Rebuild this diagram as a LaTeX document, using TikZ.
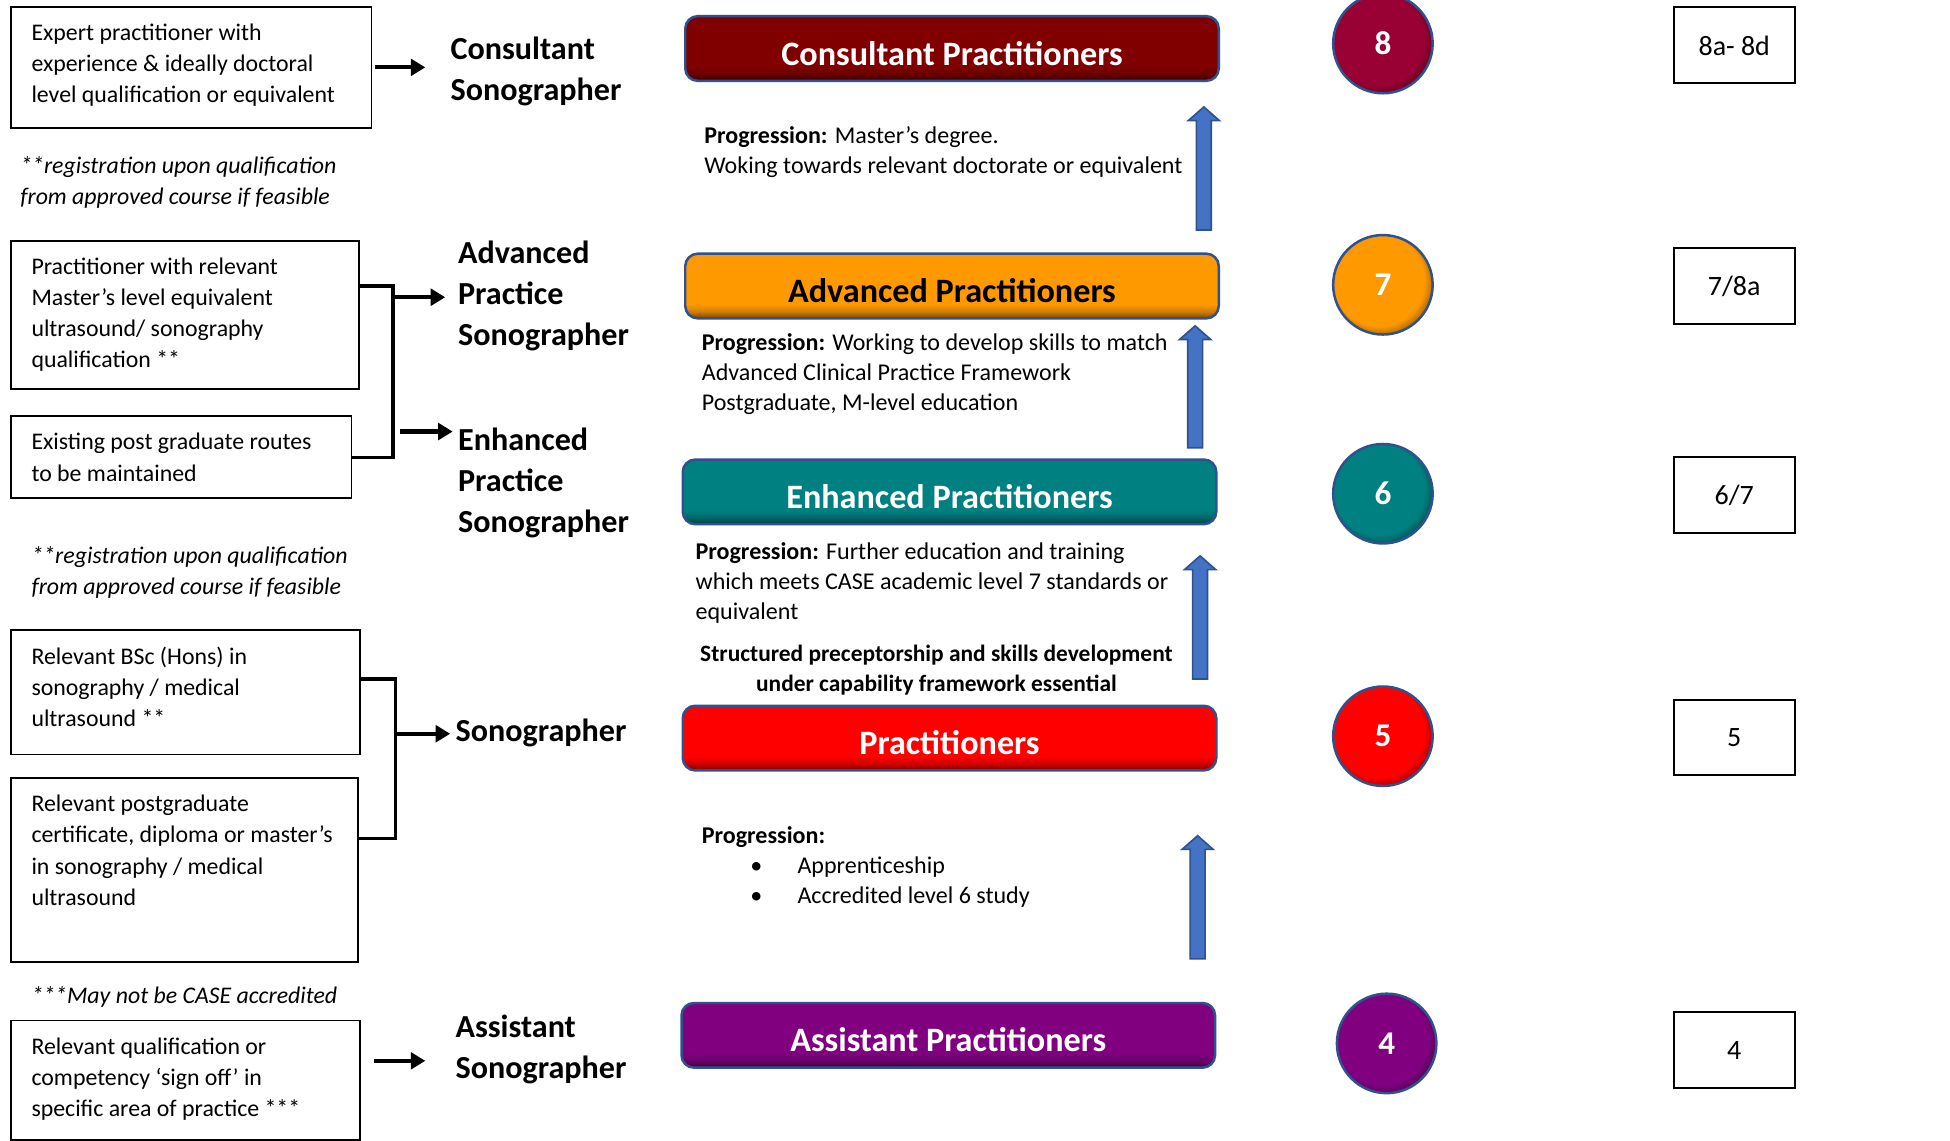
\documentclass[tikz,border=0pt]{standalone}
\usepackage{fontspec}
\setmainfont{Carlito}
\usetikzlibrary{arrows.meta,calc,positioning}

\definecolor{consred}{HTML}{800000}
\definecolor{advorange}{HTML}{FF9900}
\definecolor{enhteal}{HTML}{008080}
\definecolor{prred}{HTML}{FF0000}
\definecolor{astpurple}{HTML}{800080}
\definecolor{bandeight}{HTML}{990033}
\definecolor{arrowblue}{HTML}{4472C4}
\definecolor{edgeblue}{HTML}{2F528F}
\colorlet{barcol}{red}
\colorlet{dotcol}{red}

\pgfdeclareverticalshading[barcol]{barshade}{100bp}{color(0bp)=(barcol!45!black); color(25bp)=(barcol!45!black); color(30bp)=(barcol!80!black); color(36bp)=(barcol); color(100bp)=(barcol)}
\pgfdeclareradialshading[dotcol]{dotshade}{\pgfpoint{-4bp}{4bp}}{color(0bp)=(dotcol); color(23bp)=(dotcol); color(30bp)=(dotcol!50!black); color(50bp)=(dotcol!50!black)}

\tikzset{
  qualbox/.style={draw, line width=0.8pt, anchor=north west, inner xsep=10pt, inner ysep=8.3pt, font=\fontsize{11.5}{15}\selectfont},
  note/.style={anchor=west, inner sep=0pt, align=left, font=\itshape\fontsize{11.5}{15}\selectfont},
  role/.style={anchor=west, inner sep=0pt, align=left, font=\bfseries\fontsize{15.5}{19.8}\selectfont},
  thickarrow/.style={line width=2pt, -{Triangle[length=7pt,width=8pt]}},
  bracket/.style={line width=1.6pt},
  bar/.style={rounded corners=6pt, draw=edgeblue, line width=1.2pt, minimum width=257.4pt, minimum height=31.2pt, text height=16pt, text depth=0pt, /utils/exec={\colorlet{barcol}{#1}}, shading=barshade, text=white, font=\bfseries\fontsize{16.5}{20}\selectfont},
  band/.style={circle, minimum size=48pt, inner sep=0pt, draw=edgeblue, line width=1.2pt, /utils/exec={\colorlet{dotcol}{#1}}, shading=dotshade, text=white, font=\bfseries\fontsize{16}{18}\selectfont},
  grade/.style={draw, line width=1pt, minimum width=58.2pt, minimum height=36.6pt, inner sep=0pt, font=\fontsize{13.5}{16}\selectfont},
  prog/.style={anchor=west, inner sep=0pt, align=left, font=\fontsize{11.6}{14.4}\selectfont},
  uparrow/.style={fill=arrowblue, draw=edgeblue, line width=0.8pt}
}

\begin{document}
\begin{tikzpicture}[x=0.6pt, y=-0.6pt]

  \path[fill=white, use as bounding box] (0,0) rectangle (1568,917);

  % entry routes
  \node[qualbox] (q1) at (8,5) {\parbox[c][41.6pt][t]{154pt}{\raggedright Expert practitioner with\\experience \& ideally doctoral\\level qualification or equivalent}};
  \node[note] (n1) at (16,147) {**registration upon qualification\\from approved course if feasible};
  \node[qualbox] (q2) at (8,193) {\parbox[c][54.8pt][t]{148pt}{\raggedright Practitioner with relevant\\Master’s level equivalent\\ultrasound/ sonography\\qualification **}};
  \node[qualbox] (q3) at (8,334) {\parbox[c][23pt][t]{144.4pt}{\raggedright Existing post graduate routes\\to be maintained}};
  \node[note] (n2) at (25,460) {**registration upon qualification\\from approved course if feasible};
  \node[qualbox] (q4) at (8,506) {\parbox[c][43.4pt][t]{148.6pt}{\raggedright Relevant BSc (Hons) in\\sonography / medical\\ultrasound **}};
  \node[qualbox] (q5) at (8,625) {\parbox[c][72.2pt][t]{147.4pt}{\raggedright Relevant postgraduate\\certificate, diploma or master’s\\in sonography / medical\\ultrasound}};
  \node[note] (n3) at (25,801.5) {***May not be CASE accredited};
  \node[qualbox] (q6) at (8,820) {\parbox[c][41pt][t]{148.6pt}{\raggedright Relevant qualification or\\competency ‘sign off’ in\\specific area of practice ***}};

  % roles
  \node[role] (cons) at (362,57.5) {Consultant\\Sonographer};
  \node[role] (adv) at (368,238) {Advanced\\Practice\\Sonographer};
  \node[role] (enh) at (368,388) {Enhanced\\Practice\\Sonographer};
  \node[role] (sono) at (366,589) {Sonographer};
  \node[role] (asst) at (366,843.5) {Assistant\\Sonographer};

  \coordinate (j1) at (316,230);
  \coordinate (advin) at (358,239);
  \coordinate (enhin) at (364,347);
  \coordinate (j2) at (318,546);
  \coordinate (j3) at (318,674);
  \coordinate (sonoin) at (362,590);
  \coordinate (asstin) at (342,853);

  \draw[thickarrow, shorten <=1.2pt, shorten >=12pt] (q1.east) -- (q1.east -| cons.west);
  \draw[bracket] (q2.east |- j1) -- (j1) -- (j1 |- q3.east) -- (q3.east);
  \draw[thickarrow] (j1 |- advin) -- (advin);
  \draw[thickarrow, shorten <=3.6pt] (j1 |- enhin) -- (enhin);
  \draw[bracket] (q4.east |- j2) -- (j2) -- (j3) -- (q5.east |- j3);
  \draw[thickarrow] (j2 |- sonoin) -- (sonoin);
  \draw[thickarrow, shorten <=6pt] (q6.east |- asstin) -- (asstin);

  % career bars
  \node[bar=consred] (consbar) at (765.5,39) {Consultant Practitioners};
  \node[bar=advorange, text=black] (advbar) at (765.5,230) {Advanced Practitioners};
  \node[bar=enhteal] (enhbar) at (763.5,395.5) {Enhanced Practitioners};
  \node[bar=prred] (prbar) at (763.5,593.5) {Practitioners};
  \node[bar=astpurple] (astbar) at (762.5,832.5) {Assistant Practitioners};

  \node[prog] (p8) at (566,122) {\textbf{Progression:} Master’s degree.\\Woking towards relevant doctorate or equivalent};
  \node[prog] (p7) at (564,301) {\textbf{Progression:} Working to develop skills to match\\Advanced Clinical Practice Framework\\Postgraduate, M-level education};
  \node[prog] (p6) at (559,469) {\textbf{Progression:} Further education and training\\which meets CASE academic level 7 standards or\\equivalent};
  \node[prog, anchor=center, align=center, font=\bfseries\fontsize{11.3}{14.4}\selectfont] (struct) at (753,539) {Structured preceptorship and skills development\\under capability framework essential};
  \node[prog] (p5) at (564,697) {\textbf{Progression:}\\\hspace*{23.4pt}\makebox[22.8pt][l]{•}Apprenticeship\\\hspace*{23.4pt}\makebox[22.8pt][l]{•}Accredited level 6 study};

  \foreach \x/\yb/\yt in {968/185/86, 961/360/262, 965/546/447, 963/771/672}
    \draw[uparrow] (\x-6,\yb) -- (\x-6,\yt+11) -- (\x-12.5,\yt+11) -- (\x,\yt) -- (\x+12.5,\yt+11) -- (\x+6,\yt+11) -- (\x+6,\yb) -- cycle;

  % bands
  \node[band=bandeight] (b8) at (1112,35) {8};
  \node[band=advorange] (b7) at (1112,229) {7};
  \node[band=enhteal] (b6) at (1112,397) {6};
  \node[band=prred] (b5) at (1112,592) {5};
  \node[band=astpurple] (b4) at (1115,839) {4};

  \node[grade] (g8) at (1394.5,36.5) {8a- 8d};
  \node[grade] (g7) at (1394.5,230) {7/8a};
  \node[grade] (g6) at (1394.5,398) {6/7};
  \node[grade] (g5) at (1394.5,593) {5};
  \node[grade] (g4) at (1394.5,844.5) {4};

\end{tikzpicture}
\end{document}
